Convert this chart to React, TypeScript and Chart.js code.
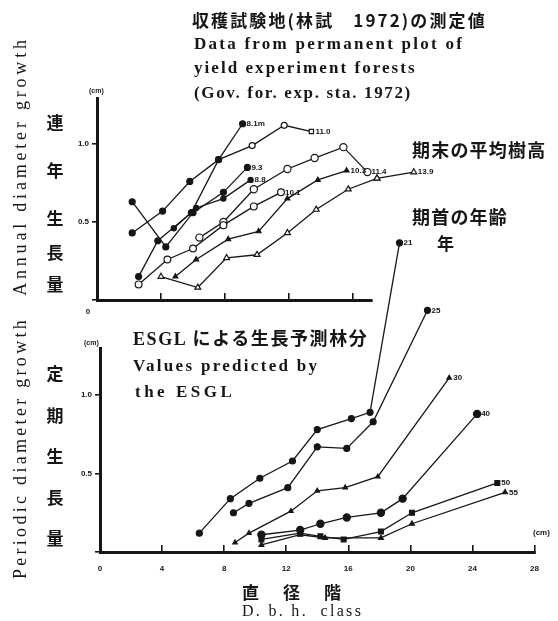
import React, { useEffect, useRef } from 'react';
import { Chart, registerables } from 'chart.js';
Chart.register(...registerables);

// ---------- Top panel: permanent plots (dbh class cm, annual diameter growth cm) ----------
const t81X = [2.6, 3.8, 5.9, 7.6, 9.1];
const t81Y = [0.15, 0.38, 0.56, 0.90, 1.13];
const t110X = [2.2, 4.1, 5.8, 7.6, 9.7, 11.7, 13.4];
const t110Y = [0.43, 0.57, 0.76, 0.90, 0.99, 1.12, 1.08];
const t93X = [2.2, 4.3, 6.0, 7.9, 9.4];
const t93Y = [0.63, 0.34, 0.56, 0.69, 0.85];
const t88X = [4.8, 6.2, 7.9, 9.6];
const t88Y = [0.46, 0.59, 0.65, 0.77];
const t101X = [2.6, 4.4, 6.0, 7.9, 9.8, 11.5];
const t101Y = [0.10, 0.26, 0.33, 0.48, 0.60, 0.69];
const t114X = [6.4, 7.9, 9.8, 11.9, 13.6, 15.4, 16.9];
const t114Y = [0.40, 0.50, 0.71, 0.84, 0.91, 0.98, 0.82];
const t103X = [4.9, 6.2, 8.2, 10.1, 11.9, 13.8, 15.6];
const t103Y = [0.15, 0.26, 0.39, 0.44, 0.65, 0.77, 0.83];
const t139X = [4.0, 6.3, 8.1, 10.0, 11.9, 13.7, 15.7, 17.5, 19.8];
const t139Y = [0.15, 0.08, 0.27, 0.29, 0.43, 0.58, 0.71, 0.78, 0.82];
const topLabels = ['8.1m', '11.0', '9.3', '8.8', '10.1', '11.4', '10.3', '13.9'];
const topXMax = 17.1875;
const topYMax = 1.295;

// ---------- Bottom panel: ESGL predictions (dbh class cm, periodic diameter growth cm) ----------
const b21X = [6.4, 8.4, 10.3, 12.4, 14.0, 16.2, 17.4, 19.3];
const b21Y = [0.12, 0.34, 0.47, 0.58, 0.78, 0.85, 0.89, 1.97];
const b25X = [8.6, 9.6, 12.1, 14.0, 15.9, 17.6, 21.1];
const b25Y = [0.25, 0.31, 0.41, 0.67, 0.66, 0.83, 1.54];
const b30X = [8.7, 9.6, 12.3, 14.0, 15.8, 17.9, 22.5];
const b30Y = [0.06, 0.12, 0.26, 0.39, 0.41, 0.48, 1.11];
const b40X = [10.4, 12.9, 14.2, 15.9, 18.1, 19.5, 24.3];
const b40Y = [0.11, 0.14, 0.18, 0.22, 0.25, 0.34, 0.88];
const b50X = [10.4, 12.9, 14.2, 15.7, 18.1, 20.1, 25.6];
const b50Y = [0.08, 0.12, 0.10, 0.08, 0.13, 0.25, 0.44];
const b55X = [10.4, 12.9, 14.5, 18.1, 20.1, 26.1];
const b55Y = [0.045, 0.11, 0.09, 0.09, 0.18, 0.38];
const bottomLabels = ['21', '25', '30', '40', '50', '55'];

const xTicksTop = [0, 4, 8, 12, 16];
const xTicksBottom = [0, 4, 8, 12, 16, 20, 24, 28];

const INK = '#161616';
const SANS = '"Liberation Sans", "DejaVu Sans", sans-serif';
const SERIF = '"Liberation Serif", "DejaVu Serif", "Noto Sans CJK JP", serif';
const CJK = '"Noto Sans CJK JP", sans-serif';

function pts(xs: number[], ys: number[]) {
  return xs.map((x, i) => ({ x, y: ys[i] }));
}

function series(xs: number[], ys: number[], label: string, shape: string, filled: boolean, r = 3) {
  return {
    label,
    data: pts(xs, ys),
    showLine: true,
    borderColor: INK,
    borderWidth: 1.3,
    pointStyle: shape,
    pointRadius: r,
    pointBackgroundColor: filled ? INK : '#fff',
    pointBorderColor: INK,
    pointBorderWidth: 1.2,
    clip: false,
    fill: false,
    tension: 0,
    endLabel: label,
  } as any;
}

// Draws the points that lie outside the chart area (the library skips them) and the end labels.
const pointLabelPlugin = {
  id: 'pointLabels',
  afterDatasetsDraw(chart: any) {
    const ctx = chart.ctx;
    const ca = chart.chartArea;
    const full = { left: 0, top: 0, right: chart.width, bottom: chart.height };
    chart.data.datasets.forEach((ds: any, i: number) => {
      const meta = chart.getDatasetMeta(i);
      meta.data.forEach((el: any) => {
        const r = (el.options && el.options.radius) || 3;
        const inside =
          el.x >= ca.left - r && el.x <= ca.right + r && el.y >= ca.top - r && el.y <= ca.bottom + r;
        if (!inside) el.draw(ctx, full);
      });
      if (!ds.endLabel) return;
      const el = meta.data[meta.data.length - 1];
      if (!el) return;
      ctx.save();
      ctx.font = 'bold 8px ' + SANS;
      ctx.fillStyle = INK;
      ctx.textBaseline = 'middle';
      ctx.textAlign = 'left';
      ctx.fillText(ds.endLabel, el.x + 4, el.y);
      ctx.restore();
    });
  },
};

function tickFont() {
  return { color: INK, font: { family: SANS, size: 8, weight: 'bold' as const } };
}
const border = { display: true, width: 3, color: INK };

export default function App() {
  const topRef = useRef<HTMLCanvasElement>(null);
  const botRef = useRef<HTMLCanvasElement>(null);

  useEffect(() => {
    const top = new Chart(topRef.current as HTMLCanvasElement, {
      type: 'scatter',
      data: {
        datasets: [
          series(t81X, t81Y, topLabels[0], 'circle', true, 3),
          {
            ...series(t110X, t110Y, topLabels[1], 'circle', true, 3),
            pointBackgroundColor: (c: any) => (c.dataIndex < 4 ? INK : '#fff'),
            pointStyle: (c: any) => (c.dataIndex === t110X.length - 1 ? 'rect' : 'circle'),
          },
          series(t93X, t93Y, topLabels[2], 'circle', true, 3),
          series(t88X, t88Y, topLabels[3], 'circle', true, 2.6),
          series(t101X, t101Y, topLabels[4], 'circle', false, 3.4),
          series(t114X, t114Y, topLabels[5], 'circle', false, 3.6),
          series(t103X, t103Y, topLabels[6], 'triangle', true, 2.8),
          series(t139X, t139Y, topLabels[7], 'triangle', false, 3.4),
        ],
      },
      options: {
        animation: false,
        responsive: false,
        events: [],
        layout: { padding: { left: 0, top: 98, right: 186, bottom: 301 } },
        plugins: { legend: { display: false }, tooltip: { enabled: false } },
        scales: {
          x: {
            type: 'linear',
            bounds: 'data',
            afterDataLimits: (s: any) => { s.min = 0; s.max = topXMax; },
            afterBuildTicks: (s: any) => {
              s.min = 0;
              s.max = topXMax;
              s.ticks = xTicksTop.map((v) => ({ value: v }));
            },
            afterFit: (s: any) => { s.height = 20; },
            border,
            grid: { drawOnChartArea: false, drawTicks: true, tickLength: -7, color: INK, lineWidth: 1.6 },
            ticks: {
              ...tickFont(),
              autoSkip: false,
              maxRotation: 0,
              padding: 14,
              labelOffset: -9,
              callback: (v: any) => (v === 0 ? '0' : ''),
            },
          },
          y: {
            type: 'linear',
            min: 0,
            max: topYMax,
            afterFit: (s: any) => { s.width = 97; },
            border,
            grid: { drawOnChartArea: false, drawTicks: true, tickLength: 5, color: INK, lineWidth: 1.6 },
            ticks: {
              ...tickFont(),
              stepSize: 0.5,
              includeBounds: false,
              padding: 3,
              callback: (v: any) => (v === 0 ? '' : Number(v).toFixed(1)),
            },
          },
        },
      } as any,
      plugins: [pointLabelPlugin],
    });

    const bottom = new Chart(botRef.current as HTMLCanvasElement, {
      type: 'scatter',
      data: {
        datasets: [
          series(b21X, b21Y, bottomLabels[0], 'circle', true, 3),
          series(b25X, b25Y, bottomLabels[1], 'circle', true, 3),
          series(b30X, b30Y, bottomLabels[2], 'triangle', true, 2.6),
          series(b40X, b40Y, bottomLabels[3], 'circle', true, 3.6),
          series(b50X, b50Y, bottomLabels[4], 'rect', true, 3.4),
          series(b55X, b55Y, bottomLabels[5], 'triangle', true, 2.8),
        ],
      },
      options: {
        animation: false,
        responsive: false,
        events: [],
        layout: { padding: { left: 0, top: 348, right: 14, bottom: 44 } },
        plugins: { legend: { display: false }, tooltip: { enabled: false } },
        scales: {
          x: {
            type: 'linear',
            min: 0,
            max: 28,
            afterFit: (s: any) => { s.height = 25; },
            afterBuildTicks: (s: any) => { s.ticks = xTicksBottom.map((v) => ({ value: v })); },
            border,
            grid: { drawOnChartArea: false, drawTicks: true, tickLength: -7, color: INK, lineWidth: 1.6 },
            ticks: {
              ...tickFont(),
              autoSkip: false,
              maxRotation: 0,
              padding: 19,
              callback: (v: any) => String(v),
            },
          },
          y: {
            type: 'linear',
            min: 0,
            max: 1.3,
            afterFit: (s: any) => { s.width = 100; },
            border,
            grid: { drawOnChartArea: false, drawTicks: true, tickLength: 5, color: INK, lineWidth: 1.6 },
            ticks: {
              ...tickFont(),
              stepSize: 0.5,
              includeBounds: false,
              padding: 3,
              callback: (v: any) => (v === 0 ? '' : Number(v).toFixed(1)),
            },
          },
        },
      } as any,
      plugins: [pointLabelPlugin],
    });

    return () => {
      top.destroy();
      bottom.destroy();
    };
  }, []);

  const txt = (
    s: string,
    left: number,
    cy: number,
    size: number,
    family: string,
    extra: React.CSSProperties = {}
  ) => (
    <div
      key={s + left + cy}
      style={{
        position: 'absolute',
        left,
        top: cy - size * 0.6,
        fontSize: size,
        lineHeight: 1.2 + 'em',
        fontFamily: family,
        fontWeight: 700,
        color: INK,
        whiteSpace: 'pre',
        ...extra,
      }}
    >
      {s}
    </div>
  );

  const vertChars = (s: string, cx: number, cys: number[]) =>
    s.split('').map((ch, i) => (
      <div
        key={s + i}
        style={{
          position: 'absolute',
          left: cx - 9,
          top: cys[i] - 10,
          width: 18,
          textAlign: 'center',
          fontSize: 17,
          lineHeight: '20px',
          fontFamily: CJK,
          fontWeight: 700,
          color: INK,
        }}
      >
        {ch}
      </div>
    ));

  const rotated = (s: string, cx: number, cy: number, size: number, spacing: number) => (
    <div
      key={s}
      style={{
        position: 'absolute',
        left: cx,
        top: cy,
        transform: 'translate(-50%, -50%) rotate(-90deg)',
        fontSize: size,
        lineHeight: '1',
        fontFamily: SERIF,
        fontWeight: 400,
        letterSpacing: spacing,
        color: INK,
        whiteSpace: 'pre',
      }}
    >
      {s}
    </div>
  );

  return (
    <div
      style={{
        position: 'fixed',
        left: 0,
        top: 0,
        width: 558,
        height: 621,
        background: '#fff',
        overflow: 'hidden',
      }}
    >
      <canvas ref={botRef} width={558} height={621} style={{ position: 'absolute', left: 0, top: 0 }} />
      <canvas ref={topRef} width={558} height={621} style={{ position: 'absolute', left: 0, top: 0 }} />

      {txt('収穫試験地(林試　1972)の測定値', 192, 20, 17, CJK, { letterSpacing: 2.1 })}
      {txt('Data from permanent plot of', 194, 44, 17, SERIF, { letterSpacing: 2.25 })}
      {txt('yield experiment forests', 194, 68, 17, SERIF, { letterSpacing: 2.05 })}
      {txt('(Gov. for. exp. sta. 1972)', 194, 93, 17, SERIF, { letterSpacing: 1.65 })}

      {txt('期末の平均樹高', 412, 150, 18, CJK, { letterSpacing: 1.2 })}
      {txt('期首の年齢', 412, 217, 18, CJK, { letterSpacing: 1.2 })}
      {txt('年', 437, 243, 17, CJK)}

      {txt('ESGL による生長予測林分', 133, 340, 18, SERIF, { letterSpacing: 1.6 })}
      {txt('Values predicted by', 133, 366, 17, SERIF, { letterSpacing: 2.3 })}
      {txt('the ESGL', 135, 392, 17, SERIF, { letterSpacing: 3.5 })}

      {txt('直径階', 242, 592, 17, CJK, { letterSpacing: 24 })}
      {txt('D. b. h.  class', 242, 611, 16, SERIF, { letterSpacing: 2.3, fontWeight: 400 })}

      {txt('(cm)', 89, 91, 7, SANS)}
      {txt('(cm)', 84, 343, 7, SANS)}
      {txt('(cm)', 533, 533, 8, SANS)}

      {rotated('Annual diameter growth', 20, 166, 18, 3.8)}
      {rotated('Periodic diameter growth', 20, 448, 18, 3.3)}

      {vertChars('連年生長量', 55, [122, 170, 218, 252, 284])}
      {vertChars('定期生長量', 55, [373, 415, 456, 497, 538])}
    </div>
  );
}
